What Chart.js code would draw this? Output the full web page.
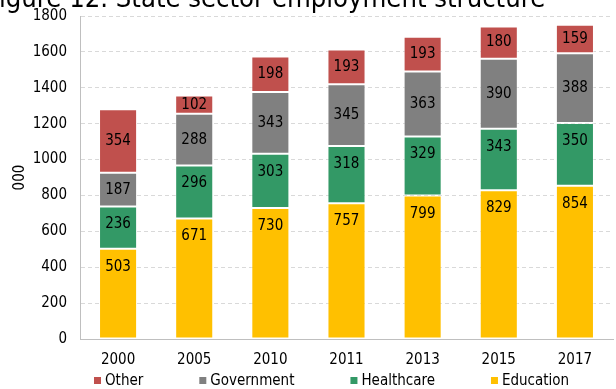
<!DOCTYPE html>
<html>
<head>
<meta charset="utf-8">
<script src="https://cdn.jsdelivr.net/npm/chart.js@4.4.1/dist/chart.umd.min.js"></script>
<style>
  html, body { margin: 0; padding: 0; background: #fff; }
  #wrap { width: 616px; height: 389px; position: relative; }
</style>
</head>
<body>
<div id="wrap"><canvas id="chart"></canvas></div>
<script>
const years = ['2000', '2005', '2010', '2011', '2013', '2015', '2017'];
const education = [503, 671, 730, 757, 799, 829, 854];
const healthcare = [236, 296, 303, 318, 329, 343, 350];
const government = [187, 288, 343, 345, 363, 390, 388];
const other = [354, 102, 198, 193, 193, 180, 159];
const yTicks = [0, 200, 400, 600, 800, 1000, 1200, 1400, 1600, 1800];

const titleText = 'Figure 12. State sector employment structure';
const FONT = '"DejaVu Sans Condensed", "DejaVu Sans", sans-serif';

// title is cut off at the top-left in the original, draw it the same way
const titlePlugin = {
    id: 'cutTitle',
    afterDraw(chart) {
        const ctx = chart.ctx;
        ctx.save();
        ctx.font = '27.2px ' + FONT;
        ctx.fillStyle = '#000';
        ctx.textBaseline = 'alphabetic';
        ctx.textAlign = 'left';
        const fw = ctx.measureText('F').width;
        ctx.fillText(titleText, -fw + 1, 7);
        ctx.restore();
    }
};

// labels inside the bars: education/healthcare near the top, the rest centred
const barLabels = {
    id: 'barLabels',
    afterDatasetsDraw(chart) {
        const ctx = chart.ctx;
        ctx.save();
        ctx.font = '15px ' + FONT;
        ctx.fillStyle = '#000';
        ctx.textAlign = 'center';
        ctx.textBaseline = 'middle';
        chart.data.datasets.forEach((ds, i) => {
            const meta = chart.getDatasetMeta(i);
            meta.data.forEach((bar, j) => {
                const y = ds.labelPos === 'end' ? bar.y + 18 : (bar.y + bar.base) / 2;
                ctx.fillText(ds.data[j], bar.x, y);
            });
        });
        ctx.restore();
    }
};

// wide-spaced legend like the Excel one
const legendPlugin = {
    id: 'wideLegend',
    afterDraw(chart) {
        const ctx = chart.ctx;
        ctx.save();
        ctx.font = '15px ' + FONT;
        ctx.textBaseline = 'middle';
        ctx.textAlign = 'left';
        let x = chart.chartArea.left + 14;
        const y = 381;
        const items = chart.data.datasets.slice().reverse();
        items.forEach(ds => {
            ctx.fillStyle = ds.backgroundColor;
            ctx.fillRect(x, y - 4, 7, 7);
            ctx.fillStyle = '#000';
            ctx.fillText(ds.label, x + 11, y);
            x += 11 + ctx.measureText(ds.label).width + 56;
        });
        ctx.restore();
    }
};

const ctx = document.getElementById('chart');

new Chart(ctx, {
    type: 'bar',
    data: {
        labels: years,
        datasets: [{
            label: 'Education',
            data: education,
            backgroundColor: '#FFC000',
            labelPos: 'end'
        },
        {
            label: 'Healthcare',
            data: healthcare,
            backgroundColor: '#339966',
            labelPos: 'end'
        },
        {
            label: 'Government',
            data: government,
            backgroundColor: '#808080',
            labelPos: 'center'
        },
        {
            label: 'Other',
            data: other,
            backgroundColor: '#C0504D',
            labelPos: 'center'
        }]
    },
    options: {
        responsive: true,
        maintainAspectRatio: false,
        animation: false,
        datasets: {
            bar: {
                categoryPercentage: 1,
                barPercentage: 0.5,
                borderWidth: 1,
                borderColor: 'rgba(255,255,255,0.45)',
                borderSkipped: false
            }
        },
        layout: {
            padding: { top: 16, right: 3, bottom: 8, left: 0 }
        },
        plugins: {
            legend: { display: false },
            tooltip: { enabled: false }
        },
        scales: {
            x: {
                stacked: true,
                grid: { display: false, drawTicks: false },
                border: { display: true, color: '#bfbfbf' },
                ticks: {
                    color: '#000',
                    padding: 12,
                    font: { family: FONT, size: 15 }
                }
            },
            y: {
                stacked: true,
                min: 0,
                max: 1800,
                afterBuildTicks(scale) {
                    scale.ticks = yTicks.map(v => ({ value: v }));
                },
                afterFit(scale) {
                    scale.width = 80;
                },
                grid: { color: '#d9d9d9', drawTicks: true, tickLength: 10, tickColor: 'rgba(0,0,0,0)' },
                border: { display: true, color: '#bfbfbf', dash: [4, 3] },
                ticks: {
                    color: '#000',
                    padding: 3,
                    font: { family: FONT, size: 15 },
                    callback: v => String(v)
                },
                title: {
                    display: true,
                    text: '000',
                    color: '#000',
                    padding: { top: 11, bottom: 0 },
                    font: { family: FONT, size: 15 }
                }
            }
        }
    },
    plugins: [barLabels, legendPlugin, titlePlugin]
});
</script>
</body>
</html>
